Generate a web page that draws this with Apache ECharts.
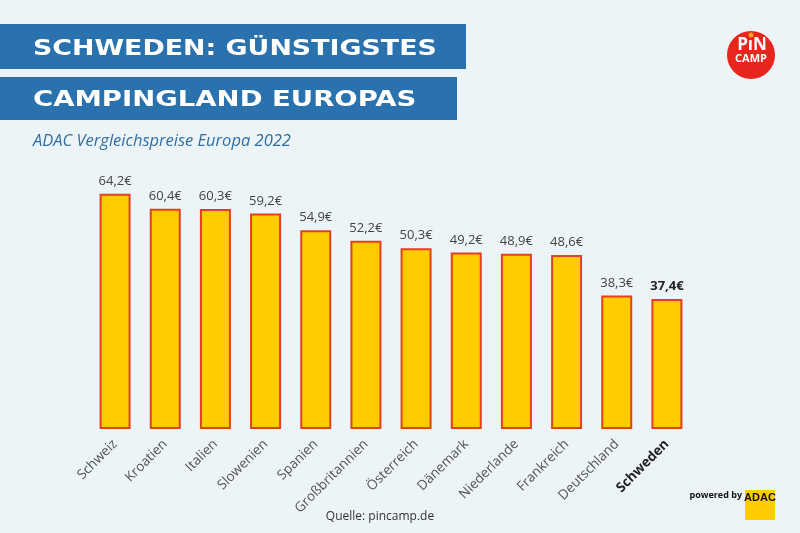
<!DOCTYPE html>
<html><head><meta charset="utf-8">
<script src="https://cdn.jsdelivr.net/npm/echarts@6/dist/echarts.min.js"></script>
<style>html,body{margin:0;padding:0;background:#edf4f8}#c{width:800px;height:533px}</style>
</head><body><div id="c"></div>
<script>
const categories = ['Schweiz','Kroatien','Italien','Slowenien','Spanien','Großbritannien','Österreich','Dänemark','Niederlande','Frankreich','Deutschland','Schweden'];
const prices = [64.2,60.4,60.3,59.2,54.9,52.2,50.3,49.2,48.9,48.6,38.3,37.4];
const highlight = 'Schweden';
const titleLines = ['SCHWEDEN: GÜNSTIGSTES','CAMPINGLAND EUROPAS'];
const subtitle = 'ADAC Vergleichspreise Europa 2022';
const source = 'Quelle: pincamp.de';

const chart = echarts.init(document.getElementById('c'));
const fmt = v => v.toFixed(1).replace('.', ',') + '€';
chart.setOption({
  backgroundColor: '#edf4f8',
  animation: false,
  grid: {left: 90, top: 171, width: 602, height: 257},
  xAxis: {
    type: 'category', data: categories,
    axisLine: {show: false}, axisTick: {show: false},
    axisLabel: {
      rotate: 45, margin: 14, fontFamily: 'Open Sans', fontSize: 13.5, color: '#555',
      formatter: v => v === highlight ? '{b|' + v + '}' : v,
      rich: {b: {fontFamily: 'Open Sans', fontSize: 13.5, fontWeight: 'bold', color: '#222'}}
    }
  },
  yAxis: {type: 'value', min: 4.5, max: 70, show: false, splitLine: {show: false}},
  series: [{
    type: 'bar', barWidth: 31, clip: true,
    data: prices.map((v, i) => ({
      value: v,
      label: categories[i] === highlight ? {fontWeight: 'bold', color: '#222'} : undefined
    })),
    itemStyle: {color: '#ffcc00', borderColor: '#e2401f', borderWidth: 2},
    label: {show: true, position: 'top', distance: 6, fontFamily: 'Open Sans', fontSize: 13, color: '#444',
      formatter: p => fmt(p.value)}
  }],
  graphic: [
    {type: 'rect', shape: {x: 0, y: 24, width: 466, height: 45}, style: {fill: '#2a72ad'}},
    {type: 'rect', shape: {x: 0, y: 77, width: 457, height: 43}, style: {fill: '#2a72ad'}},
    {type: 'text', x: 33, y: 49, scaleX: 1.22, style: {text: titleLines[0], fill: '#fff', font: 'bold 22px "DejaVu Sans"', textVerticalAlign: 'middle'}},
    {type: 'text', x: 33, y: 100, scaleX: 1.25, style: {text: titleLines[1], fill: '#fff', font: 'bold 22px "DejaVu Sans"', textVerticalAlign: 'middle'}},
    {type: 'text', x: 33, y: 141, style: {text: subtitle, fill: '#2f6fa5', font: 'italic 16.5px "Open Sans"', textVerticalAlign: 'middle'}},
    {type: 'circle', shape: {cx: 751, cy: 55, r: 24}, style: {fill: '#e8261e'}},
    {type: 'text', x: 752, y: 45, style: {text: 'PıN', fill: '#fff', font: 'bold 17px "Open Sans"', textAlign: 'center', textVerticalAlign: 'middle'}},
    {type: 'circle', shape: {cx: 751, cy: 35, r: 2.5}, style: {fill: '#f7a21b'}},
    {type: 'text', x: 751, y: 59, style: {text: 'CAMP', fill: '#fff', font: 'bold 11px "Open Sans"', textAlign: 'center', textVerticalAlign: 'middle'}},
    {type: 'text', x: 380, y: 517, style: {text: source, fill: '#333', font: '12px "Open Sans"', textAlign: 'center', textVerticalAlign: 'middle'}},
    {type: 'text', x: 742, y: 495, style: {text: 'powered by', fill: '#111', font: 'bold 9px "Open Sans"', textAlign: 'right', textVerticalAlign: 'middle'}},
    {type: 'rect', shape: {x: 745, y: 490, width: 30, height: 30}, style: {fill: '#ffcc00'}},
    {type: 'text', x: 760, y: 498, style: {text: 'ADAC', fill: '#111', font: 'bold 11px "Liberation Sans Narrow", "Liberation Sans"', textAlign: 'center', textVerticalAlign: 'middle'}}
  ]
});
</script></body></html>
